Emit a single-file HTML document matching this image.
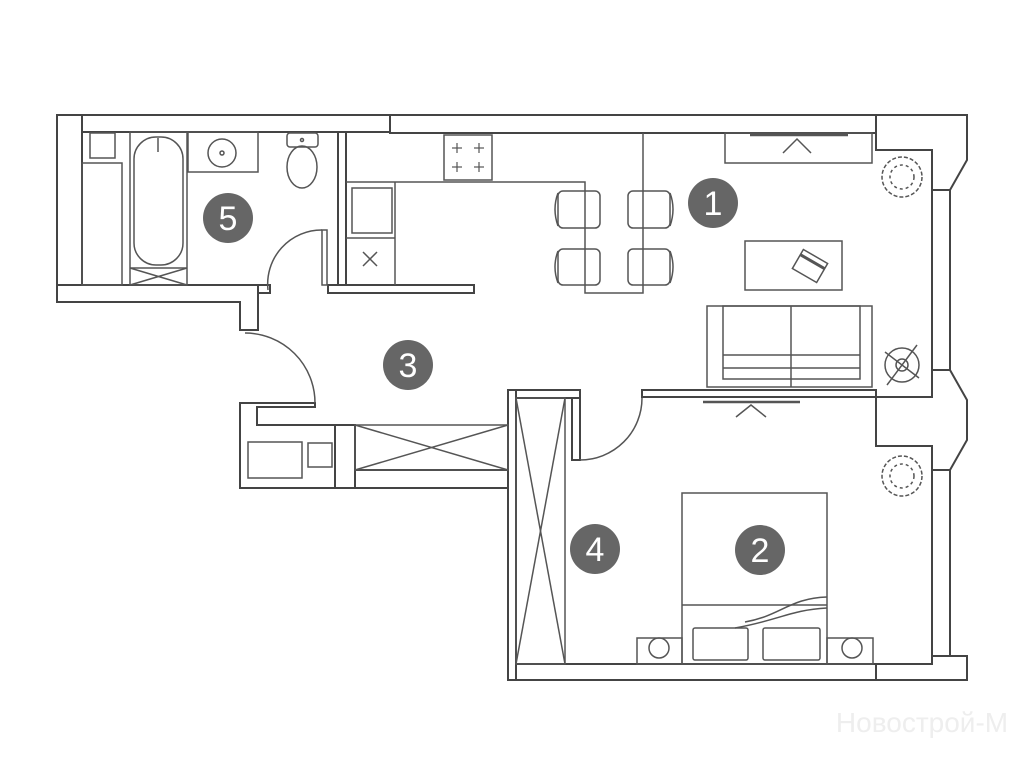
<!DOCTYPE html>
<html><head><meta charset="utf-8"><style>
html,body{margin:0;padding:0;background:#fff;}
svg{display:block;}
</style></head><body>
<svg width="1024" height="768" viewBox="0 0 1024 768" xmlns="http://www.w3.org/2000/svg">
<g fill="#fff" stroke="#444" stroke-width="2">
<rect x="57" y="115" width="333" height="17"/>
<rect x="390" y="115" width="486" height="18"/>
<rect x="57" y="115" width="25" height="187"/>
<polygon points="57,285 258,285 258,330 240,330 240,302 57,302"/>
<rect x="338" y="132" width="8" height="153"/>
<rect x="258" y="285" width="12" height="8"/>
<rect x="328" y="285" width="146" height="8"/>
<polygon points="876,115 967,115 967,160 950,190 932,190 932,150 876,150"/>
<polygon points="932,370 950,370 967,400 967,440 950,470 932,470 932,446 876,446 876,397 932,397"/>
<polygon points="932,656 950,656 967,656 967,680 876,680 876,664 932,664"/>
<rect x="932" y="190" width="18" height="180"/>
<rect x="932" y="470" width="18" height="186"/>
<rect x="642" y="390" width="234" height="7"/>
<rect x="508" y="390" width="72" height="8"/>
<rect x="508" y="390" width="8" height="290"/>
<rect x="572" y="398" width="8" height="62"/>
<rect x="516" y="664" width="360" height="16"/>
<polygon points="240,403 315,403 315,407 257,407 257,425 355,425 355,488 240,488"/>
<rect x="335" y="425" width="20" height="63"/>
<rect x="355" y="470" width="153" height="18"/>
</g>
<g fill="none" stroke="#444" stroke-width="2">
<line x1="932" y1="150" x2="932" y2="390"/>
<line x1="932" y1="446" x2="932" y2="664"/>
</g>
<g fill="none" stroke="#555" stroke-width="1.5">
<rect x="90" y="133" width="25" height="25"/>
<rect x="82" y="163" width="40" height="122"/>
<rect x="130" y="132" width="57" height="153"/>
<rect x="134" y="137" width="49" height="128" rx="22"/>
<line x1="130" y1="268" x2="187" y2="268"/>
<line x1="130" y1="268" x2="187" y2="285"/><line x1="187" y1="268" x2="130" y2="285"/>
<line x1="158" y1="138" x2="158" y2="152"/>
<rect x="188" y="132" width="70" height="40"/>
<circle cx="222" cy="153" r="14"/><circle cx="222" cy="153" r="2"/>
<rect x="287" y="133" width="31" height="14" rx="3"/>
<ellipse cx="302" cy="167" rx="15" ry="21"/>
<circle cx="302" cy="140" r="1.5"/>
<polyline points="346,182 585,182 585,293 643,293 643,133"/>
<line x1="395" y1="182" x2="395" y2="285"/>
<rect x="444" y="135" width="48" height="45"/>
<g stroke-width="1.2"><line x1="452" y1="148" x2="462" y2="148"/><line x1="457" y1="143" x2="457" y2="153"/>
<line x1="474" y1="148" x2="484" y2="148"/><line x1="479" y1="143" x2="479" y2="153"/>
<line x1="452" y1="167" x2="462" y2="167"/><line x1="457" y1="162" x2="457" y2="172"/>
<line x1="474" y1="167" x2="484" y2="167"/><line x1="479" y1="162" x2="479" y2="172"/></g>
<rect x="352" y="188" width="40" height="45"/>
<line x1="346" y1="238" x2="395" y2="238"/>
<line x1="363" y1="252" x2="377" y2="266"/><line x1="377" y1="252" x2="363" y2="266"/>
<rect x="558" y="191" width="42" height="37" rx="5"/><path d="M558,193 q-6,16 0,33"/>
<rect x="628" y="191" width="42" height="37" rx="5"/><path d="M670,193 q6,16 0,33"/>
<rect x="558" y="249" width="42" height="36" rx="5"/><path d="M558,251 q-6,16 0,32"/>
<rect x="628" y="249" width="42" height="36" rx="5"/><path d="M670,251 q6,16 0,32"/>
<rect x="725" y="133" width="147" height="30"/>
<line x1="750" y1="135" x2="848" y2="135" stroke-width="2.5"/>
<polyline points="783,153 797,139 811,153"/>
<rect x="745" y="241" width="97" height="49"/>
<g transform="translate(810,266) rotate(30)"><rect x="-14" y="-11" width="28" height="22"/><line x1="-14" y1="-5" x2="14" y2="-5" stroke-width="3"/></g>
<rect x="707" y="306" width="165" height="81"/>
<rect x="723" y="306" width="137" height="73"/>
<line x1="791" y1="306" x2="791" y2="387"/>
<line x1="723" y1="355" x2="860" y2="355"/>
<line x1="723" y1="368" x2="860" y2="368"/>
<circle cx="902" cy="365" r="17"/><circle cx="902" cy="365" r="6"/>
<line x1="887" y1="385" x2="917" y2="345"/><line x1="885" y1="352" x2="919" y2="378"/>
<circle cx="902" cy="177" r="20" stroke-dasharray="4 2"/><circle cx="902" cy="177" r="12" stroke-dasharray="3 3"/>
<circle cx="902" cy="476" r="20" stroke-dasharray="4 2"/><circle cx="902" cy="476" r="12" stroke-dasharray="3 3"/>
<line x1="703" y1="402" x2="800" y2="402" stroke-width="2.5"/>
<polyline points="736,417 751,405 766,417"/>
<rect x="516" y="398" width="49" height="266"/>
<line x1="516" y1="398" x2="565" y2="664"/><line x1="565" y1="398" x2="516" y2="664"/>
<rect x="355" y="425" width="153" height="45"/>
<line x1="355" y1="425" x2="508" y2="470"/><line x1="508" y1="425" x2="355" y2="470"/>
<rect x="248" y="442" width="54" height="36"/>
<rect x="308" y="443" width="24" height="24"/>
<rect x="682" y="493" width="145" height="171"/>
<line x1="682" y1="605" x2="827" y2="605"/>
<path d="M745,622 C780,616 790,598 827,597"/>
<path d="M735,628 C780,620 790,610 827,608"/>
<rect x="693" y="628" width="55" height="32" rx="2"/>
<rect x="763" y="628" width="57" height="32" rx="2"/>
<rect x="637" y="638" width="45" height="26"/><circle cx="659" cy="648" r="10"/>
<rect x="827" y="638" width="46" height="26"/><circle cx="852" cy="648" r="10"/>
<path d="M268,290 A54,54 0 0 1 322,230"/>
<rect x="322" y="230" width="5" height="55" stroke-width="1.5"/>
<path d="M245,333 A70,70 0 0 1 315,403"/>
<path d="M580,460 A62,62 0 0 0 642,398"/>
</g>
<g font-family="Liberation Sans, sans-serif" font-size="34" fill="#fff" text-anchor="middle">
<circle cx="713" cy="203" r="25" fill="#666"/><text x="713" y="215">1</text>
<circle cx="760" cy="550" r="25" fill="#666"/><text x="760" y="562">2</text>
<circle cx="408" cy="365" r="25" fill="#666"/><text x="408" y="377">3</text>
<circle cx="595" cy="549" r="25" fill="#666"/><text x="595" y="561">4</text>
<circle cx="228" cy="218" r="25" fill="#666"/><text x="228" y="230">5</text>
</g>
<text x="922" y="732" font-family="Liberation Sans, sans-serif" font-size="28" fill="#eee" text-anchor="middle">Новострой-М</text>
</svg>
</body></html>
